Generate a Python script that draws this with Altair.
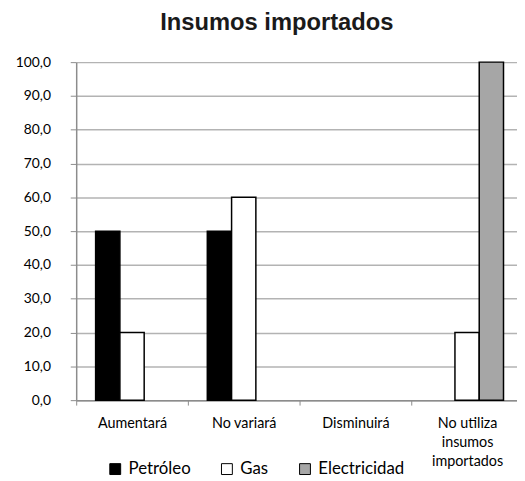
import altair as alt
import pandas as pd

categories = ["Aumentará", "No variará", "Disminuirá", "No utiliza insumos importados"]
series = ["Petróleo", "Gas", "Electricidad"]
petroleo = [50.0, 50.0, 0.0, 0.0]
gas = [20.0, 60.0, 0.0, 20.0]
electricidad = [0.0, 0.0, 0.0, 100.0]
colors = ["#000000", "#ffffff", "#a6a6a6"]
y_ticks = [0, 10, 20, 30, 40, 50, 60, 70, 80, 90, 100]

rows = []
for s, vals in zip(series, [petroleo, gas, electricidad]):
    for c, v in zip(categories, vals):
        rows.append({"cat": c, "serie": s, "value": v})
df = pd.DataFrame(rows)

label_expr = ("datum.value == 'No utiliza insumos importados' ? "
              "['No utiliza', 'insumos', 'importados'] : datum.label")

chart = alt.Chart(df).transform_filter(
    "datum.value > 0"
).mark_bar(stroke="#000000", strokeWidth=1.5).encode(
    x=alt.X("cat:N", sort=categories,
            scale=alt.Scale(domain=categories, range=[0, 452],
                            paddingInner=0, paddingOuter=0),
            axis=alt.Axis(title=None, labelAngle=0, tickBand="extent", tickSize=5,
                          tickColor="#8c8c8c", domainColor="#8c8c8c", domainWidth=1.5,
                          labelFont="Lato", labelFontSize=14.5, labelColor="#000000",
                          labelPadding=12, labelExpr=label_expr, labelLineHeight=19,
                          labelBaseline="top", grid=False)),
    xOffset=alt.XOffset("serie:N", sort=series,
                        scale=alt.Scale(domain=series, paddingInner=0, paddingOuter=0.8)),
    y=alt.Y("value:Q", scale=alt.Scale(domain=[0, 100], nice=False),
            axis=alt.Axis(title=None, values=y_ticks, tickSize=6,
                          tickColor="#8c8c8c", domainColor="#8c8c8c", domainWidth=1.5,
                          gridColor="#b3b3b3", gridWidth=1.5,
                          labelFont="Lato", labelFontSize=14, labelColor="#000000",
                          labelPadding=20,
                          labelExpr="replace(format(datum.value, '.1f'), '.', ',')")),
    fill=alt.Fill("serie:N", sort=series,
                  scale=alt.Scale(domain=series, range=colors),
                  legend=alt.Legend(orient="none", legendX=31, legendY=403,
                                    direction="horizontal", title=None,
                                    symbolType="square", symbolSize=121,
                                    symbolStrokeColor="#000000", symbolStrokeWidth=1,
                                    labelFont="Lato", labelFontSize=17,
                                    labelColor="#000000", labelOffset=5,
                                    columnPadding=28)),
).properties(
    width=446,
    height=342,
    title=alt.TitleParams("Insumos importados", font="Liberation Sans", fontSize=24,
                          fontWeight="bold", color="#1a1a1a", anchor="middle",
                          dx=-20, offset=21),
    autosize=alt.AutoSizeParams(type="none"),
    padding={"left": 69, "top": 52, "right": 0, "bottom": 76},
).configure_view(stroke=None)

chart.save("out.html", embed_options={"renderer": "svg", "actions": False})
